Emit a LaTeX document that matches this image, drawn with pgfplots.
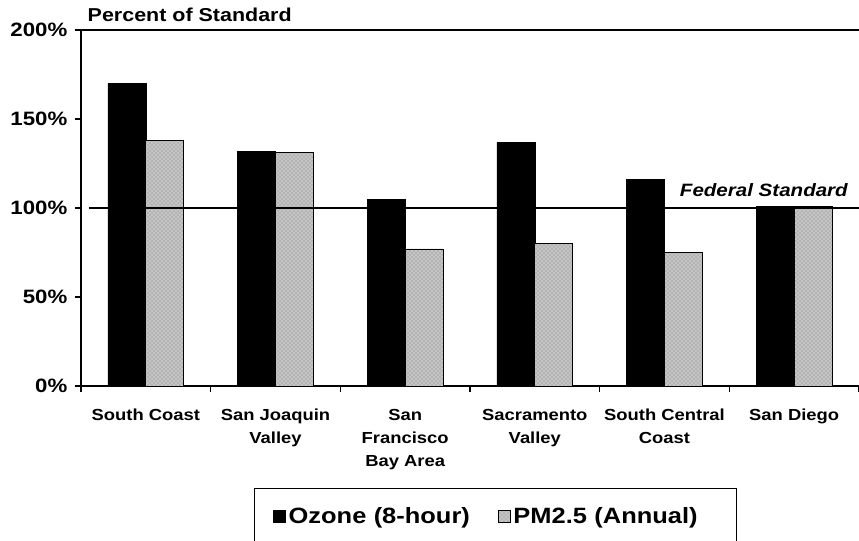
\documentclass[border=0pt]{standalone}
\usepackage{pgfplots}
\pgfplotsset{compat=1.18}
\usepackage{fontspec}
\setmainfont{Liberation Sans}[FakeStretch=1.15]
\usetikzlibrary{patterns}
\definecolor{pmgray}{RGB}{196,196,196}
\begin{document}
\begin{tikzpicture}
\begin{axis}[
  at={(0,0)}, anchor=south west,
  scale only axis, width=583.5pt, height=267pt,
  ybar=0pt, bar width=28.5pt,
  xmin=0, xmax=6, ymin=0, ymax=200,
  axis x line*=bottom, axis y line*=left,
  axis line style={-, line width=0.8pt},
  tick align=outside,
  xtick={0.5,1.5,2.5,3.5,4.5,5.5},
  xticklabels={South Coast, San Joaquin\\Valley, San\\Francisco\\Bay Area, Sacramento\\Valley, South Central\\Coast, San Diego},
  xticklabel style={align=center, font=\fontsize{12}{17.25}\selectfont\bfseries, yshift=-9.5pt},
  major x tick style={draw=none},
  minor xtick={0,1,2,3,4,5,6},
  minor tick length=4.5pt,
  minor x tick style={line width=0.8pt, black},
  ytick={0,50,100,150,200},
  major tick length=4.5pt,
  y tick style={line width=0.8pt, black},
  yticklabel={\pgfmathprintnumber{\tick}\%},
  yticklabel style={font=\fontsize{14.5}{16}\selectfont\bfseries, xshift=-2.25pt},
  /pgf/number format/assume math mode=true,
  title={Percent of Standard},
  every axis title/.style={at={(0,1)}, anchor=base west, xshift=1.5pt, yshift=6pt, font=\fontsize{14}{16}\selectfont\bfseries},
  legend columns=2,
  legend style={at={(0.2224,-0.2865)}, anchor=north west, draw=black, line width=0.6pt,
    inner xsep=14.25pt, inner ysep=12pt, font=\fontsize{16.6}{19}\selectfont\bfseries},
  legend image code/.code={\draw[#1, line width=0.4pt] (0pt,-4.5pt) rectangle (9pt,4.5pt);},
]
\addplot[fill=black, draw=black, bar shift=-14.25pt] coordinates {(0.5,170)(1.5,132)(2.5,105)(3.5,137)(4.5,116)(5.5,101)};
\addlegendentry[text width=155.25pt, align=left]{Ozone (8-hour)}
\addplot[fill=pmgray, draw=black, line width=0.6pt, bar shift=14.25pt, postaction={pattern=crosshatch dots, pattern color=gray}] coordinates {(0.5,138)(1.5,131)(2.5,77)(3.5,80)(4.5,75)(5.5,101)};
\addlegendentry[text width=151.25pt, align=left]{PM2.5 (Annual)}
\addplot[sharp plot, black, line width=1pt, forget plot] coordinates {(0.06,100)(6,100)};
\draw[line width=0.8pt] (rel axis cs:0,1) -- (rel axis cs:1,1);
\node[anchor=base east, font=\fontsize{13.4}{16}\selectfont\bfseries\itshape] at (axis cs:5.95,106.2) {Federal Standard};
\end{axis}
\pgfresetboundingbox
\useasboundingbox (-60.75pt,-116.25pt) rectangle (583.5pt,289.5pt);
\end{tikzpicture}
\end{document}
